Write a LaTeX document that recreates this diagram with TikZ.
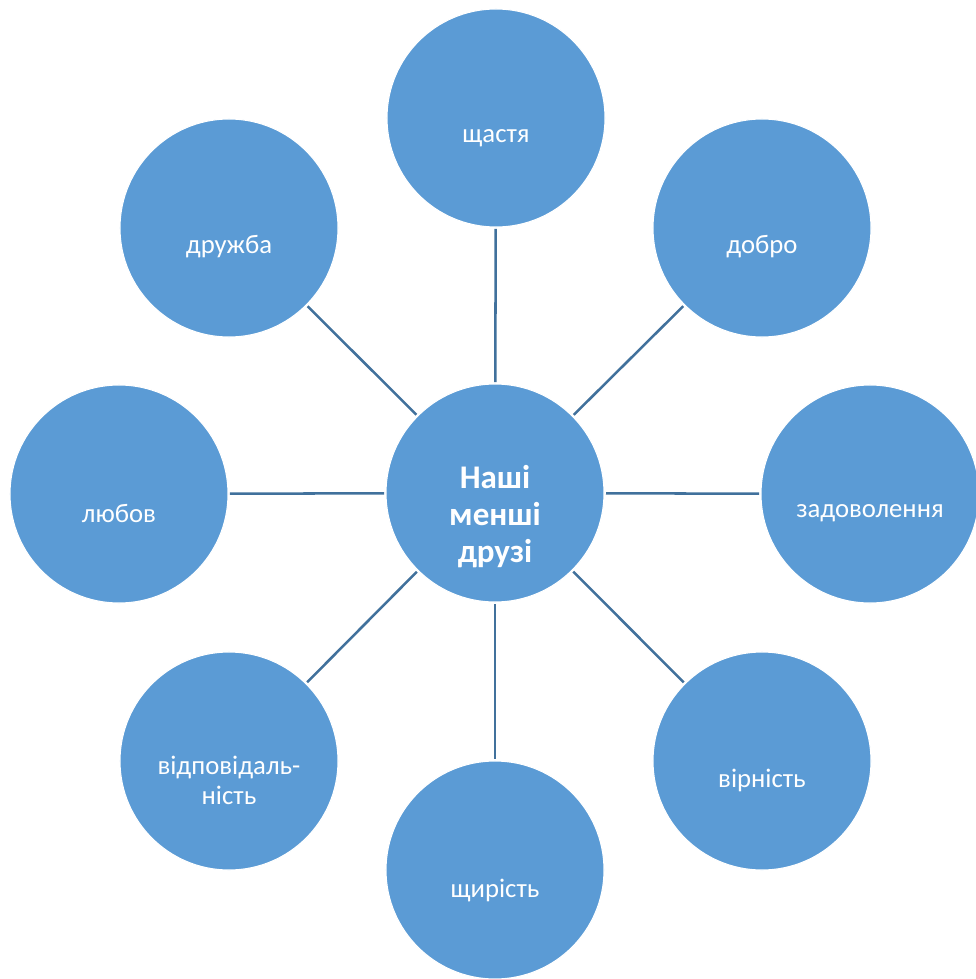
\documentclass[tikz,border=0pt]{standalone}
\usepackage{fontspec}
\setmainfont{Carlito}
\definecolor{blob}{RGB}{91,155,213}
\definecolor{spoke}{RGB}{65,113,156}
\tikzset{
  blobnode/.style={circle,fill=blob,draw=white,line width=0.8pt,minimum size=5.45cm,inner sep=0pt},
  word/.style={text=white,font=\fontsize{19}{21.3}\selectfont,align=center,inner sep=0pt},
  hubword/.style={text=white,font=\bfseries\fontsize{23.5}{26.3}\selectfont,align=center,inner sep=0pt},
  spokeline/.style={draw=spoke,line width=1.8pt,shorten >=1pt,shorten <=1pt}
}
\begin{document}
\begin{tikzpicture}[x=0.025cm,y=0.025cm]
\useasboundingbox (0,0) rectangle (975,-979);
\node [blobnode] (hub) at (495,-493) {};
\node [hubword] (hubt) at (495,-517) {Наші\\менші\\друзі};
\node [blobnode] (joy) at (496,-118) {};
\node [word] (joyt) at (496,-138) {щастя};
\node [blobnode] (good) at (762,-228) {};
\node [word] (goodt) at (762,-247) {добро};
\node [blobnode] (glad) at (870,-494) {};
\node [word] (gladt) at (870,-513) {задоволення};
\node [blobnode] (loyal) at (762,-761) {};
\node [word] (loyalt) at (762,-780) {вірність};
\node [blobnode] (sincere) at (495,-870) {};
\node [word] (sinceret) at (495,-890) {щирість};
\node [blobnode] (duty) at (229,-761) {};
\node [word] (dutyt) at (229,-780) {відповідаль-\\ність};
\node [blobnode] (love) at (119,-494) {};
\node [word] (lovet) at (119,-513) {любов};
\node [blobnode] (friend) at (229,-228) {};
\node [word] (friendt) at (229,-247) {дружба};
\draw [spokeline] (hub) -- (joy);
\draw [spokeline] (hub) -- (good);
\draw [spokeline] (hub) -- (glad);
\draw [spokeline] (hub) -- (loyal);
\draw [spokeline] (hub) -- (sincere);
\draw [spokeline] (hub) -- (duty);
\draw [spokeline] (hub) -- (love);
\draw [spokeline] (hub) -- (friend);
\end{tikzpicture}
\end{document}
